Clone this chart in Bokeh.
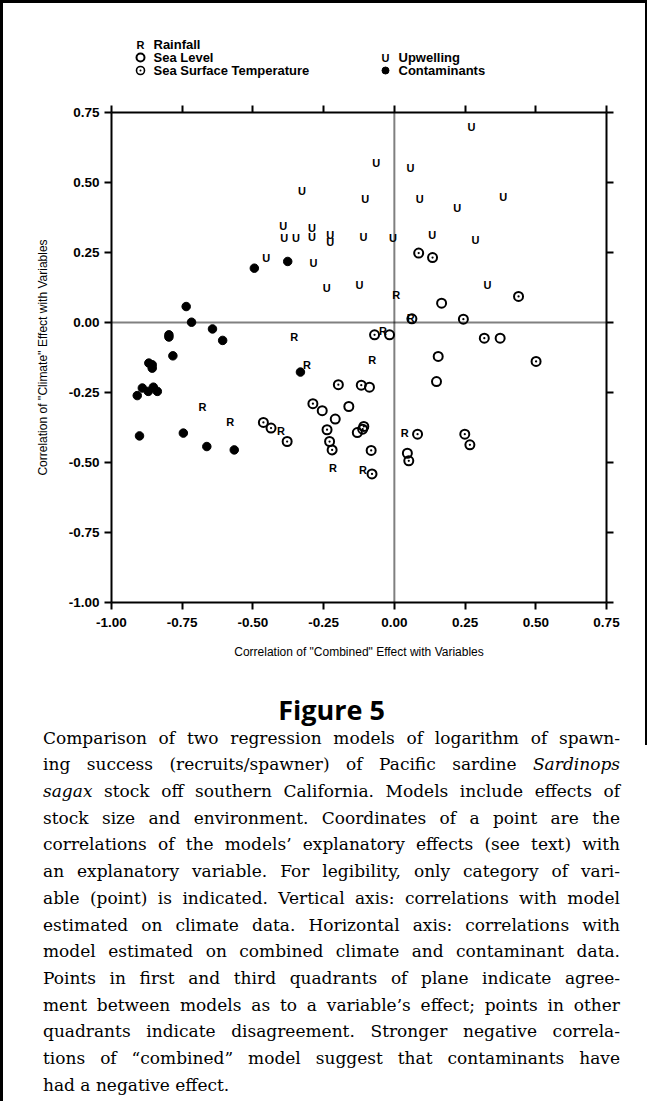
from bokeh.plotting import figure
from bokeh.models import (Range1d, LinearAxis, Span, FixedTicker, Div,
                          ColumnDataSource, NumeralTickFormatter)
from bokeh.layouts import column
from bokeh.core.properties import value
from bokeh.embed import file_html
from bokeh.resources import INLINE

# ---------------- data ----------------
rain_x = [0.007, 0.058, -0.040, -0.354, -0.078, -0.309, -0.678, -0.580, -0.401, -0.217, -0.111, 0.037]
rain_y = [0.099, 0.015, -0.032, -0.050, -0.133, -0.151, -0.302, -0.357, -0.389, -0.520, -0.526, -0.393]

up_x = [0.273, -0.064, 0.057, -0.327, -0.103, 0.090, 0.385, 0.222, -0.393, -0.389, -0.348,
        -0.291, -0.291, -0.227, -0.227, -0.109, -0.005, 0.134, 0.287, -0.453, -0.286, -0.239,
        -0.123, 0.329]
up_y = [0.700, 0.569, 0.551, 0.471, 0.442, 0.442, 0.450, 0.408, 0.346, 0.301, 0.301,
        0.339, 0.307, 0.313, 0.289, 0.307, 0.301, 0.313, 0.295, 0.230, 0.214, 0.123,
        0.135, 0.135]

sl_x = [0.167, 0.062, 0.374, 0.155, 0.149, -0.017, -0.088, -0.255, -0.161, -0.209, -0.131, 0.046]
sl_y = [0.069, 0.013, -0.056, -0.121, -0.211, -0.044, -0.231, -0.315, -0.300, -0.345, -0.393, -0.467]

sst_x = [0.086, 0.135, 0.439, 0.244, 0.318, 0.501, -0.070, -0.198, -0.117, -0.288, -0.238, -0.229,
         -0.220, -0.108, -0.112, -0.082, -0.079, -0.463, -0.436, -0.379, 0.082, 0.249, 0.267, 0.051]
sst_y = [0.248, 0.232, 0.093, 0.012, -0.056, -0.139, -0.044, -0.222, -0.224, -0.290, -0.383, -0.425,
         -0.455, -0.371, -0.381, -0.457, -0.541, -0.357, -0.377, -0.425, -0.399, -0.399, -0.437, -0.494]

con_x = [-0.495, -0.377, -0.736, -0.717, -0.643, -0.607, -0.797, -0.797, -0.783, -0.868, -0.856,
         -0.856, -0.909, -0.891, -0.870, -0.852, -0.838, -0.901, -0.746, -0.663, -0.566, -0.332]
con_y = [0.194, 0.218, 0.057, 0.001, -0.023, -0.064, -0.044, -0.052, -0.119, -0.145, -0.151,
         -0.163, -0.261, -0.234, -0.246, -0.231, -0.246, -0.405, -0.395, -0.443, -0.455, -0.177]

ticks = [-1.0, -0.75, -0.5, -0.25, 0.0, 0.25, 0.5, 0.75]

legend_names = ["Rainfall", "Sea Level", "Sea Surface Temperature", "Upwelling", "Contaminants"]
legend_kinds = ["R", "circle", "circle_dot", "U", "dot"]

x_title = 'Correlation of "Combined" Effect with Variables'
y_title = "Correlation of ''Climate'' Effect with Variables"

caption_title = "Figure 5"
caption_lines = [
    "Comparison of two regression models of logarithm of spawn-",
    "ing success (recruits/spawner) of Pacific sardine <i>Sardinops</i>",
    "<i>sagax</i> stock off southern California. Models include effects of",
    "stock size and environment. Coordinates of a point are the",
    "correlations of the models\u2019 explanatory effects (see text) with",
    "an explanatory variable. For legibility, only category of vari-",
    "able (point) is indicated. Vertical axis: correlations with model",
    "estimated on climate data. Horizontal axis: correlations with",
    "model estimated on combined climate and contaminant data.",
    "Points in first and third quadrants of plane indicate agree-",
    "ment between models as to a variable\u2019s effect; points in other",
    "quadrants indicate disagreement. Stronger negative correla-",
    "tions of \u201ccombined\u201d model suggest that contaminants have",
    "had a negative effect.",
]

FONT = "Liberation Sans"
OX, OY = 3, 3          # page border thickness (left, top)
FW = 642               # inner width
LH = 85                # legend strip height
MH = 690 - OY - LH     # main figure height
FL, FR = 111, 606      # plot frame left/right on the page
BL = FL - OX
BR = OX + FW - FR
BT = 112 - OY - LH
BB = (OY + LH + MH) - 602

# ---------------- legend strip (coords = page pixels) ----------------
lg = figure(width=FW, height=LH, output_backend="svg", toolbar_location=None,
            x_range=Range1d(FL, FR), y_range=Range1d(OY + LH, OY),
            min_border_left=BL, min_border_right=BR, min_border_top=0, min_border_bottom=0)
lg.axis.visible = False
lg.grid.visible = False
lg.outline_line_color = None

leg_x = [140, 140, 140, 385, 385]
leg_y = [44, 57, 70, 57, 70]
for kx, ky, kind in zip(leg_x, leg_y, legend_kinds):
    if kind in ("R", "U"):
        lg.text(x=[kx], y=[ky], text=[kind], text_font=value(FONT), text_font_style="bold",
                text_font_size="11px", text_align="center", text_baseline="middle", text_color="black")
    elif kind == "circle":
        lg.scatter([kx], [ky], marker="circle", size=8, fill_color=None, line_color="black", line_width=2)
    elif kind == "circle_dot":
        lg.scatter([kx], [ky], marker="circle_dot", size=8, fill_color=None, line_color="black", line_width=1.6)
    else:
        lg.scatter([kx], [ky], marker="circle", size=7, fill_color="black", line_color="black")
lg.text(x=[v + 13 for v in leg_x], y=leg_y, text=legend_names, text_font=value(FONT), text_font_style="bold",
        text_font_size="13px", text_align="left", text_baseline="middle", text_color="black")

# ---------------- main figure ----------------
p = figure(width=FW, height=MH, output_backend="svg", toolbar_location=None,
           x_range=Range1d(-1, 0.75), y_range=Range1d(-1, 0.75),
           min_border_left=BL, min_border_right=BR, min_border_top=BT, min_border_bottom=BB)
p.grid.visible = False
p.outline_line_color = None


def style_axis(ax, labels=True):
    ax.ticker = FixedTicker(ticks=ticks)
    ax.axis_line_width = 2
    ax.major_tick_line_width = 2
    ax.major_tick_out = 7
    ax.major_tick_in = 0
    ax.minor_tick_line_color = None
    if labels:
        ax.formatter = NumeralTickFormatter(format="0.00")
        ax.major_label_text_font = FONT
        ax.major_label_text_font_style = "bold"
        ax.major_label_text_font_size = "13.5px"
        ax.major_label_text_color = "black"
    else:
        ax.major_label_overrides = {t: "" for t in ticks}
        ax.major_label_text_font_size = "1px"
        ax.major_label_text_color = None
        ax.major_label_standoff = 0
    ax.axis_label_text_font = FONT
    ax.axis_label_text_font_style = "normal"
    ax.axis_label_text_font_size = "12px"
    ax.axis_label_text_color = "black"


style_axis(p.xaxis[0])
style_axis(p.yaxis[0])
p.xaxis[0].axis_label = x_title
p.yaxis[0].axis_label = y_title
p.xaxis[0].major_label_standoff = 8
p.xaxis[0].axis_label_standoff = 15
p.yaxis[0].major_label_standoff = 5
p.yaxis[0].axis_label_standoff = 16

top_ax = LinearAxis()
right_ax = LinearAxis()
style_axis(top_ax, labels=False)
style_axis(right_ax, labels=False)
p.add_layout(top_ax, "above")
p.add_layout(right_ax, "right")

p.add_layout(Span(location=0, dimension="height", line_color="black", line_width=2, line_dash="1 1"))
p.add_layout(Span(location=0, dimension="width", line_color="black", line_width=2, line_dash="1 1"))

p.scatter(con_x, con_y, marker="circle", size=8.5, fill_color="black", line_color="black")
p.scatter(sl_x, sl_y, marker="circle", size=9, fill_color=None, line_color="black", line_width=2)
p.scatter(sst_x, sst_y, marker="circle_dot", size=9, fill_color=None, line_color="black", line_width=2)

rsrc = ColumnDataSource(dict(x=rain_x, y=rain_y, t=["R"] * len(rain_x)))
usrc = ColumnDataSource(dict(x=up_x, y=up_y, t=["U"] * len(up_x)))
for src in (rsrc, usrc):
    p.text(x="x", y="y", text="t", source=src, text_font=value(FONT), text_font_style="bold",
           text_font_size="11px", text_align="center", text_baseline="middle", text_color="black")

# ---------------- caption ----------------
rows = []
for i, line in enumerate(caption_lines):
    last = "left" if i == len(caption_lines) - 1 else "justify"
    rows.append(f'<div style="text-align:justify;text-align-last:{last};white-space:nowrap;">{line}</div>')
CH = 1101 - 690
html = (
    f'<div style="position:relative;width:{FW + 2}px;height:{CH}px;background:white;">'
    f'<div style="position:absolute;left:{FW}px;top:0px;width:2px;height:55px;background:black;"></div>'
    f'<div style="position:absolute;left:40px;width:577px;top:{710 - 690 - 17}px;text-align:center;'
    f'font-family:\'Open Sans\';font-weight:bold;font-size:27px;line-height:34px;color:black;">{caption_title}</div>'
    f'<div style="position:absolute;left:40px;width:577px;top:{738 - 690 - 13.35}px;font-family:\'DejaVu Serif\';'
    f'font-size:17px;line-height:26.7px;color:black;">' + "".join(rows) + '</div></div>'
)
div = Div(text=html, width=FW + 2, height=CH, styles={"margin": "0", "padding": "0"})

upper = column(lg, p, spacing=0, styles={"border-right": "2px solid black"})
layout = column(upper, div, spacing=0,
                styles={"border-left": "3px solid black", "border-top": "3px solid black",
                        "background": "white"})

open("out.html", "w").write(file_html(layout, INLINE))
